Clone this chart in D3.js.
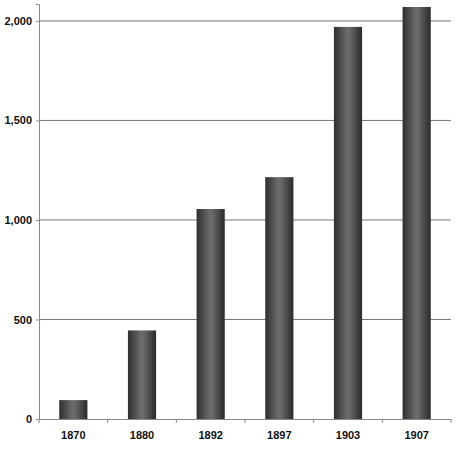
<!DOCTYPE html>
<html><head><meta charset="utf-8">
<script src="https://cdn.jsdelivr.net/npm/d3@7"></script>
<style>body{margin:0;background:#fff}text{font-family:"Liberation Sans",Arial,sans-serif;font-weight:bold;font-size:11px}</style>
</head><body><svg id="chart" width="459" height="450"></svg>
<script>
const years = ["1870", "1880", "1892", "1897", "1903", "1907"];
const values = [95, 445, 1055, 1215, 1970, 2070];
const yTicks = [0, 500, 1000, 1500, 2000];

const svg = d3.select("#chart");
const mLeft = 39, mRight = 451, mTop = 4, mBottom = 419;

const x = d3.scaleBand().domain(years).range([mLeft, mRight]).paddingInner(0.59).paddingOuter(0.295);
const y = d3.scaleLinear().domain([0, 2085]).range([mBottom, mTop]);

// gradient for cylinder look
const grad = svg.append("defs").append("linearGradient").attr("id", "bar");
[["0%", "#2e2e2e"], ["45%", "#6a6a6a"], ["55%", "#6a6a6a"], ["100%", "#2a2a2a"]].forEach(s =>
    grad.append("stop").attr("offset", s[0]).attr("stop-color", s[1]));

// gridlines
svg.append("g").selectAll("line").data(yTicks.slice(1)).join("line")
    .attr("x1", mLeft).attr("x2", mRight)
    .attr("y1", d => y(d)).attr("y2", d => y(d))
    .attr("stroke", "#777").attr("stroke-width", 1);

// y axis
const yAxis = svg.append("g").attr("transform", `translate(${mLeft},0)`)
    .call(d3.axisLeft(y).tickValues(yTicks).tickSize(3).tickPadding(4));
yAxis.select(".domain").attr("stroke", "#888");
yAxis.selectAll(".tick line").attr("stroke", "#888");

// bars
svg.append("g").selectAll("rect").data(values).join("rect")
    .attr("x", (d, i) => x(years[i]))
    .attr("width", x.bandwidth())
    .attr("y", d => y(d))
    .attr("height", d => mBottom - y(d))
    .attr("fill", "url(#bar)");

// x axis
const xAxis = svg.append("g").attr("transform", `translate(0,${mBottom})`)
    .call(d3.axisBottom(x).tickSize(0).tickPadding(12));
xAxis.select(".domain").attr("stroke", "#888");
// category boundary ticks
const step = x.step();
svg.append("g").selectAll("line").data(d3.range(years.length + 1)).join("line")
    .attr("x1", i => mLeft + i * step).attr("x2", i => mLeft + i * step)
    .attr("y1", mBottom).attr("y2", mBottom + 4)
    .attr("stroke", "#888");
svg.selectAll("text").attr("fill", "#111");
</script></body></html>
